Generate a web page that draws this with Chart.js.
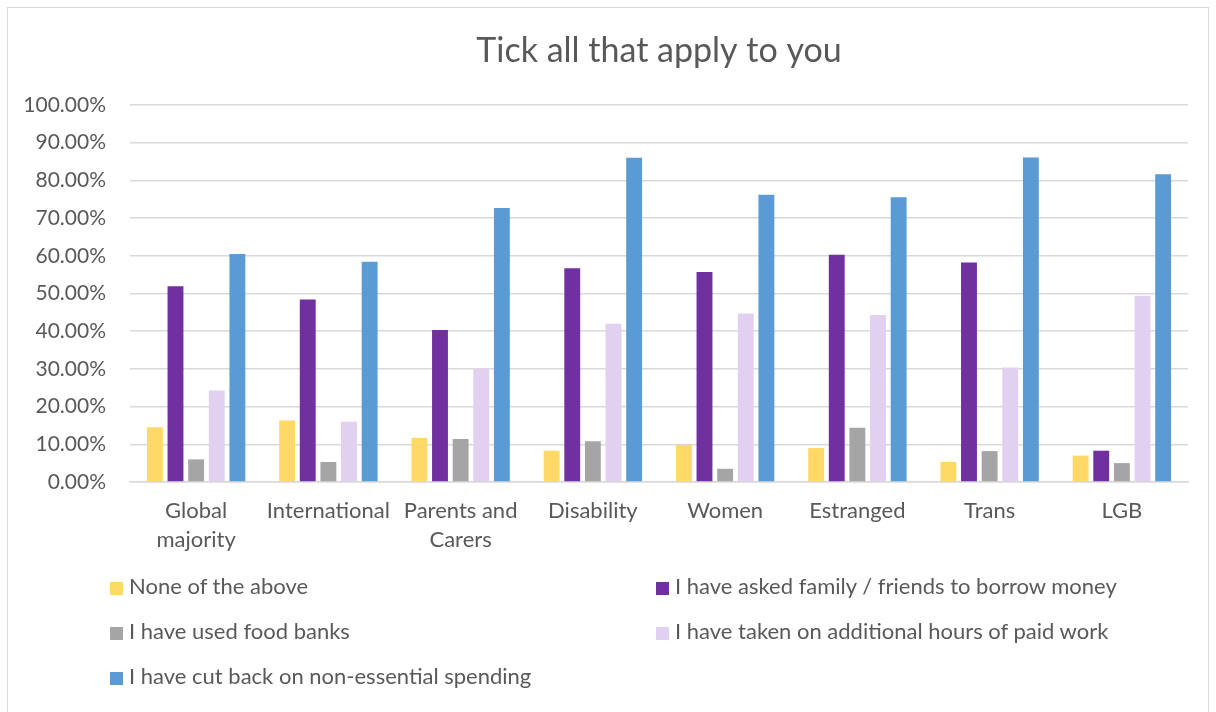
<!DOCTYPE html>
<html>
<head>
<meta charset="utf-8">
<script src="https://cdn.jsdelivr.net/npm/chart.js@4"></script>
<style>
    body { margin: 0; background: #fff; font-family: Lato, sans-serif; }
    #wrap { position: relative; width: 1216px; height: 712px; overflow: hidden; }
    #frame { position: absolute; left: 7px; top: 7px; width: 1202px; height: 712px; border: 1px solid #d9d9d9; box-sizing: border-box; }
    canvas { position: absolute; left: 0; top: 0; }
    .item { position: absolute; height: 26px; line-height: 26px; font-size: 22px; color: #595959; white-space: nowrap; }
    .item span { display: inline-block; width: 13px; height: 13px; margin-right: 6px; vertical-align: -1px; }
</style>
</head>
<body>
<div id="wrap">
    <div id="frame"></div>
    <canvas id="chart" width="1216" height="712"></canvas>
    <div id="legend"></div>
</div>
<script>
const categories = [["Global", "majority"], "International", ["Parents and", "Carers"], "Disability", "Women", "Estranged", "Trans", "LGB"];

const noneOfTheAbove = [14.5, 16.3, 11.7, 8.3, 9.8, 9.0, 5.3, 7.0];
const askedFamily = [51.9, 48.4, 40.3, 56.7, 55.7, 60.3, 58.2, 8.3];
const usedFoodBanks = [6.0, 5.3, 11.4, 10.8, 3.5, 14.4, 8.2, 5.0];
const extraHours = [24.3, 16.0, 30.1, 42.0, 44.7, 44.3, 30.4, 49.4];
const cutBack = [60.5, 58.4, 72.7, 86.0, 76.2, 75.5, 86.1, 81.6];

const seriesNames = [
    "None of the above",
    "I have asked family / friends to borrow money",
    "I have used food banks",
    "I have taken on additional hours of paid work",
    "I have cut back on non-essential spending"
];
const colours = ["#FFD966", "#7030A0", "#A5A5A5", "#E2D0F0", "#5B9BD5"];

const textColour = "#595959";
const gridColour = "#d9d9d9";

document.addEventListener("DOMContentLoaded", () => {
    const canvas = document.getElementById("chart");
    const values = [noneOfTheAbove, askedFamily, usedFoodBanks, extraHours, cutBack];

    new Chart(canvas, {
        type: "bar",
        data: {
            labels: categories,
            datasets: values.map((v, i) => ({
                label: seriesNames[i],
                data: v,
                backgroundColor: colours[i],
                borderWidth: 0,
                categoryPercentage: 0.78,
                barPercentage: 0.77
            }))
        },
        options: {
            responsive: false,
            animation: false,
            layout: { padding: { top: 0, left: 0, right: 28, bottom: 140 } },
            plugins: {
                legend: { display: false },
                tooltip: { enabled: false },
                title: {
                    display: true,
                    fullSize: false,
                    text: "Tick all that apply to you",
                    color: textColour,
                    font: { family: "Lato", size: 34, weight: "normal" },
                    padding: { top: 30.6, bottom: 33.6 }
                }
            },
            scales: {
                x: {
                    grid: { display: false, drawTicks: false },
                    border: { color: gridColour, width: 1.5 },
                    ticks: {
                        color: textColour,
                        padding: 14,
                        maxRotation: 0,
                        autoSkip: false,
                        font: { family: "Lato", size: 22, lineHeight: 1.32 }
                    },
                    afterFit: (s) => { s.height = 90; }
                },
                y: {
                    min: 0,
                    max: 100,
                    border: { display: false },
                    grid: { color: gridColour, lineWidth: 1.5, drawTicks: false },
                    ticks: {
                        stepSize: 10,
                        color: textColour,
                        padding: 24,
                        font: { family: "Lato", size: 21 },
                        callback: (v) => v.toFixed(2) + "%"
                    },
                    afterFit: (s) => { s.width = 130; }
                }
            }
        }
    });

    // two-column legend under the plot, like the Excel original
    const legend = document.getElementById("legend");
    const slots = [[110, 586], [656, 586], [110, 631], [656, 631], [110, 676]];
    seriesNames.forEach((name, i) => {
        const el = document.createElement("div");
        el.className = "item";
        el.style.left = slots[i][0] + "px";
        el.style.top = (slots[i][1] - 13) + "px";
        el.innerHTML = '<span style="background:' + colours[i] + '"></span>' + name;
        legend.appendChild(el);
    });
});
</script>
</body>
</html>
